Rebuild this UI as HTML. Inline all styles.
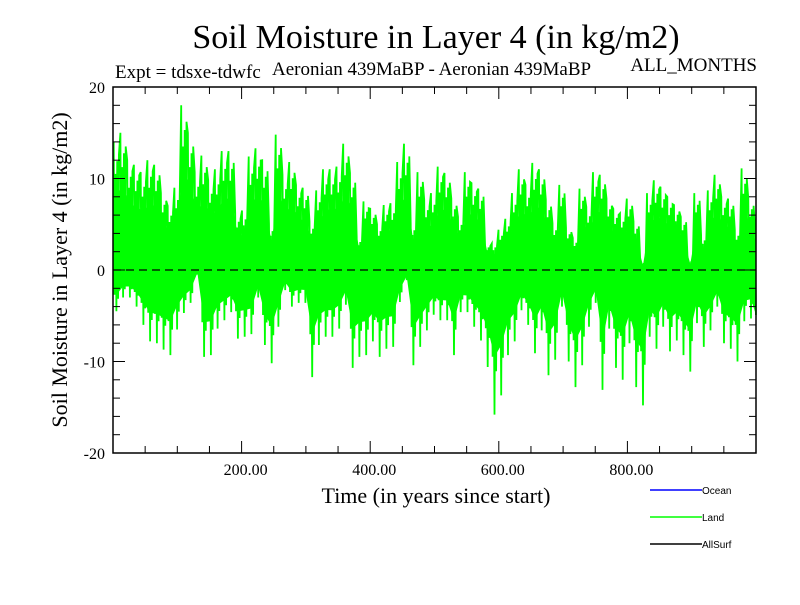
<!DOCTYPE html>
<html><head><meta charset="utf-8"><style>
body{margin:0;background:#fff}
svg text{font-family:"Liberation Serif",serif}
</style></head><body>
<svg id="chart" width="800" height="600">
<text x="436" y="48" font-size="34" text-anchor="middle">Soil Moisture in Layer 4 (in kg/m2)</text>
<text x="115" y="78" font-size="19">Expt = tdsxe-tdwfc</text>
<text x="272" y="75" font-size="19">Aeronian 439MaBP - Aeronian 439MaBP</text>
<text x="757" y="71" font-size="19" text-anchor="end">ALL_MONTHS</text>
<text transform="translate(67,270) rotate(-90)" font-size="22" text-anchor="middle">Soil Moisture in Layer 4 (in kg/m2)</text>
<text x="436" y="503" font-size="22" text-anchor="middle">Time (in years since start)</text>
<g id="series"></g>
<g id="axes"></g>
<g>
<line x1="650" y1="490" x2="702" y2="490" stroke="#0000ff" stroke-width="1.5"/>
<text x="702" y="494" font-size="10" style="font-family:'Liberation Sans',sans-serif">Ocean</text>
<line x1="650" y1="517" x2="702" y2="517" stroke="#00ff00" stroke-width="1.5"/>
<text x="702" y="521" font-size="10" style="font-family:'Liberation Sans',sans-serif">Land</text>
<line x1="650" y1="544" x2="702" y2="544" stroke="#000" stroke-width="1.5"/>
<text x="702" y="548" font-size="10" style="font-family:'Liberation Sans',sans-serif">AllSurf</text>
</g>
</svg>
<script>
const upperVals=[14,15,12,11.5,10.7,12,11.5,8.4,7,9,18,15,10.7,12.5,9.8,11,13,13,6.2,6.5,12.4,13.3,12,5,14.8,10.4,11.8,9.3,9,5.3,8.7,11,
11,11.3,13.8,10.6,3.6,7.5,6.7,5,7.1,7.3,11.8,13.8,5.1,10.7,7.7,8.4,11.3,10.6,7.8,5.8,10.7,9.5,8.9,2.9,2.9,4.4,5.6,8.4,11,9.3,11.7,11,
7.7,5.1,9.3,4.6,3.5,8.9,6.9,10.7,10.4,7.8,6.7,6.2,7.8,5.3,0.9,8.4,9.8,9.1,8,7.1,5.8,1.1,8.4,3.8,8.7,10.4,8,7.8,4.4,11.1,7.8,4.7];
const lowerVals=[-4.5,-3,-3,-4,-6,-7.8,-8,-8.7,-9.3,-6.5,-4.7,-3.6,-0.5,-9.5,-9.3,-6.4,-5.5,-4.6,-7.5,-7.3,-7,-3,-8.2,-10.2,-6.2,-2.2,-4,-3.6,-3.6,-11.7,-8.2,-7.3,
-7.3,-6.4,-3.8,-10.7,-9.5,-9.3,-7.8,-9.5,-8.6,-8.4,-3.5,-1.1,-10.4,-8.4,-6.6,-4.9,-5.5,-5.5,-9.3,-4.6,-4.6,-6.2,-7.7,-10.6,-15.8,-13.7,-9.3,-7.8,-4.4,-6,-9.1,-6.6,
-11.5,-9.8,-4,-10,-12.8,-10.4,-6.2,-3.6,-13.1,-6.4,-10.7,-12,-8,-12.8,-14.8,-7.3,-8.6,-6.2,-8.9,-7.7,-9.3,-11.1,-5.8,-8.4,-6.6,-4,-8,-8.6,-10,-5.6,-5.3,-8.2];
const binYears=10.5;
const yTicks=[-20,-10,0,10,20];
const xTicks=[200,400,600,800];
const X0=113,X1=756,Y0=453,Y1=87;
const xs=v=>X0+(v/1000)*(X1-X0);
const ys=v=>Y0-(v+20)/40*(Y0-Y1);
const NS="http://www.w3.org/2000/svg";
const ax=document.getElementById('axes');
function mk(p,t,a){const e=document.createElementNS(NS,t);for(const k in a)e.setAttribute(k,a[k]);p.appendChild(e);return e;}
const frame=mk(ax,'rect',{x:X0,y:Y1,width:X1-X0,height:Y0-Y1,fill:'none',stroke:'#000','stroke-width':1.5});


for(let v=-20;v<=20;v+=2){const big=v%10===0;
 mk(ax,'line',{x1:X0,x2:X0+(big?12:7),y1:ys(v),y2:ys(v),stroke:'#000','stroke-width':1});
 mk(ax,'line',{x1:X1,x2:X1-(big?12:7),y1:ys(v),y2:ys(v),stroke:'#000','stroke-width':1});}
for(let v=50;v<1000;v+=50){const big=v%200===0;
 mk(ax,'line',{x1:xs(v),x2:xs(v),y1:Y0,y2:Y0-(big?12:7),stroke:'#000','stroke-width':1});
 mk(ax,'line',{x1:xs(v),x2:xs(v),y1:Y1,y2:Y1+(big?12:7),stroke:'#000','stroke-width':1});}
yTicks.forEach(v=>{const t=mk(ax,'text',{x:X0-8,y:ys(v)+6,'font-size':16,'text-anchor':'end'});t.textContent=v;
 
 });
xTicks.forEach(v=>{const t=mk(ax,'text',{x:xs(v)+4,y:Y0+22,'font-size':16,'text-anchor':'middle'});t.textContent=v.toFixed(2);
 
 });
const sg=document.getElementById('series');
const upperEdge=[],lowerEdge=[];
for(let i=0;i<upperVals.length;i++){
 const yc=Math.min(i*binYears+binYears/2,1000);
 upperEdge.push(xs(yc).toFixed(1)+','+ys(upperVals[i]*0.6).toFixed(1));
 lowerEdge.unshift(xs(yc).toFixed(1)+','+ys(lowerVals[i]*0.6).toFixed(1));
}
const band=mk(sg,'polygon',{points:upperEdge.concat(lowerEdge).join(' '),fill:'#00ff00'});


const pts=[];
const fr=[[0.1,1],[0.22,-0.6],[0.35,0.75],[0.5,-1],[0.62,0.85],[0.75,-0.7],[0.88,0.9]];
for(let i=0;i<upperVals.length;i++){
 fr.forEach(f=>{const yr=i*binYears+binYears*f[0];if(yr<=1000)pts.push([yr,f[1]>0?upperVals[i]*f[1]:lowerVals[i]*-f[1]]);});
}
const pl=mk(sg,'polyline',{points:pts.map(p=>xs(p[0]).toFixed(1)+','+ys(p[1]).toFixed(1)).join(' '),fill:'none',stroke:'#00ff00','stroke-width':1.8});


const zl=mk(sg,'line',{x1:X0,x2:X1,y1:ys(0),y2:ys(0),stroke:'#000','stroke-width':1.2,'stroke-dasharray':'8,5'});


</script>
</body></html>
